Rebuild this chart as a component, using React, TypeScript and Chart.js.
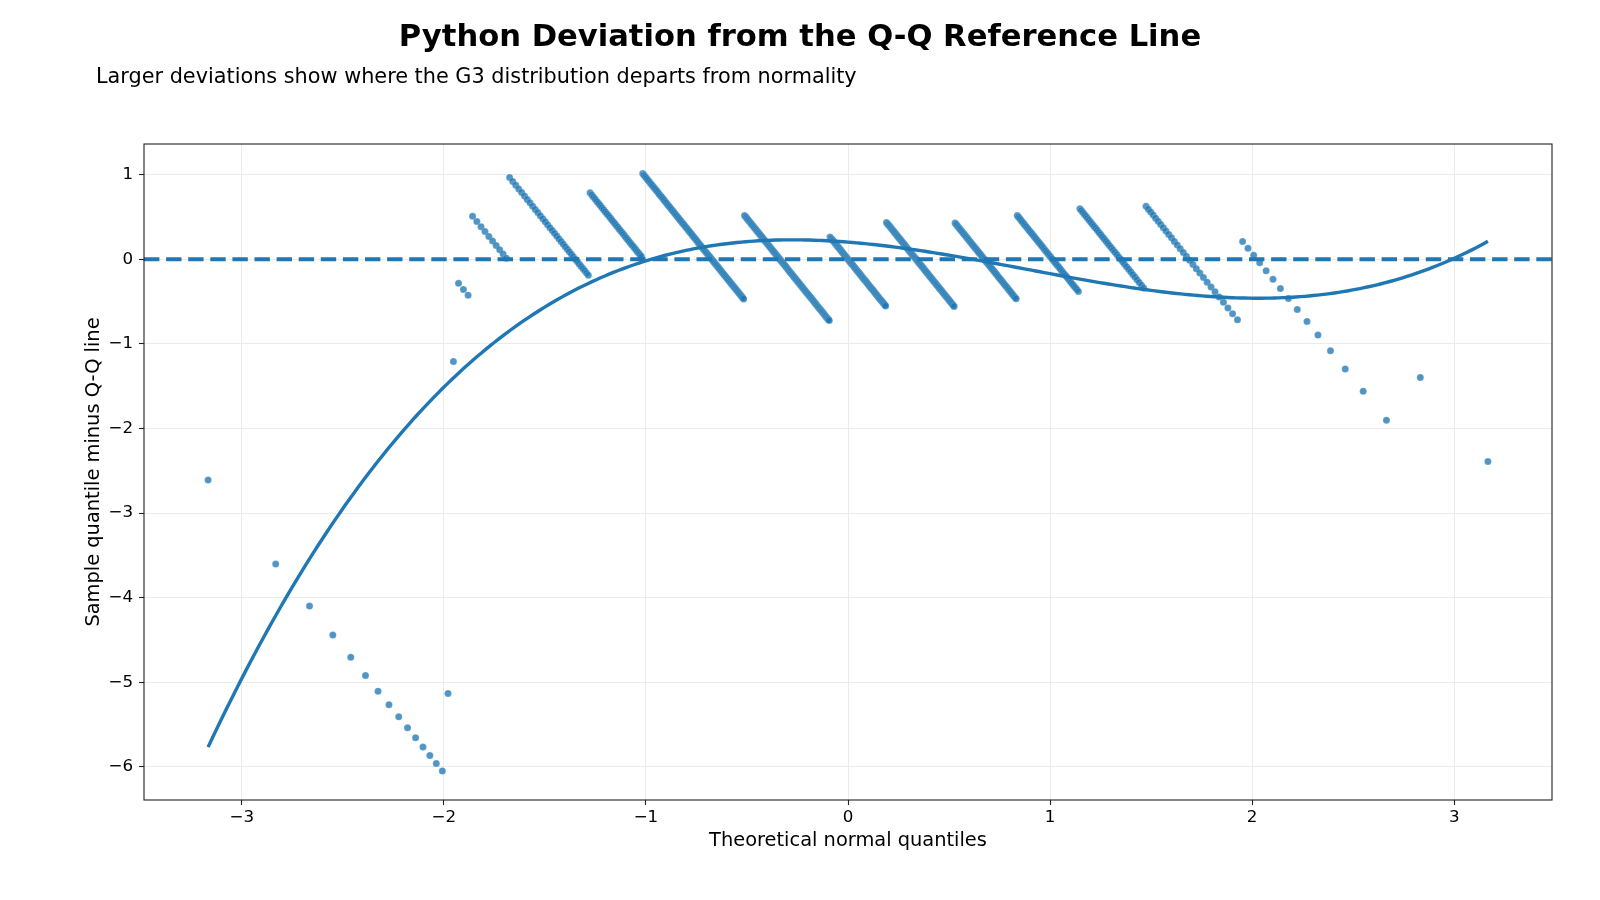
import React, { useEffect, useRef } from "react";
import { Chart, registerables } from "chart.js";

Chart.register(...registerables);

const TITLE = "Python Deviation from the Q-Q Reference Line";
const SUBTITLE = "Larger deviations show where the G3 distribution departs from normality";
const X_LABEL = "Theoretical normal quantiles";
const Y_LABEL = "Sample quantile minus Q-Q line";

// G3 grades present in the sample and how many students received each
// (counts read from the length of each diagonal stripe of points)
const gradeValues = [0, 1, 5, 6, 7, 8, 9, 10, 11, 12, 13, 14, 15, 16, 17, 18, 19];
const gradeCounts = [15, 1, 1, 3, 10, 35, 35, 97, 104, 72, 82, 63, 49, 36, 29, 15, 2];

const xTickValues = [-3, -2, -1, 0, 1, 2, 3];
const xTickLabels = ["−3", "−2", "−1", "0", "1", "2", "3"];
const yTickValues = [-6, -5, -4, -3, -2, -1, 0, 1];
const yTickLabels = ["−6", "−5", "−4", "−3", "−2", "−1", "0", "1"];

const X_MIN = -3.484;
const X_MAX = 3.484;
const Y_MIN = -6.39;
const Y_MAX = 1.362;

const BLUE = "#1f77b4";
const FONT = "'DejaVu Sans', 'Liberation Sans', sans-serif";

// Inverse of the standard normal CDF (Acklam)
function normInv(p: number): number {
  const a = [-3.969683028665376e1, 2.209460984245205e2, -2.759285104469687e2, 1.38357751867269e2, -3.066479806614716e1, 2.506628277459239];
  const b = [-5.447609879822406e1, 1.615858368580409e2, -1.556989798598866e2, 6.680131188771972e1, -1.328068155288572e1];
  const c = [-7.784894002430293e-3, -3.223964580411365e-1, -2.400758277161838, -2.549732539343734, 4.374664141464968, 2.938163982698783];
  const d = [7.784695709041462e-3, 3.224671290700398e-1, 2.445134137142996, 3.754408661907416];
  const pLow = 0.02425;
  const pHigh = 1 - pLow;
  let q: number, r: number;
  if (p < pLow) {
    q = Math.sqrt(-2 * Math.log(p));
    return (((((c[0] * q + c[1]) * q + c[2]) * q + c[3]) * q + c[4]) * q + c[5]) / ((((d[0] * q + d[1]) * q + d[2]) * q + d[3]) * q + 1);
  }
  if (p <= pHigh) {
    q = p - 0.5;
    r = q * q;
    return ((((((a[0] * r + a[1]) * r + a[2]) * r + a[3]) * r + a[4]) * r + a[5]) * q) / (((((b[0] * r + b[1]) * r + b[2]) * r + b[3]) * r + b[4]) * r + 1);
  }
  q = Math.sqrt(-2 * Math.log(1 - p));
  return -(((((c[0] * q + c[1]) * q + c[2]) * q + c[3]) * q + c[4]) * q + c[5]) / ((((d[0] * q + d[1]) * q + d[2]) * q + d[3]) * q + 1);
}

function percentile(sorted: number[], p: number): number {
  const pos = p * (sorted.length - 1);
  const lo = Math.floor(pos);
  const hi = Math.min(lo + 1, sorted.length - 1);
  return sorted[lo] + (pos - lo) * (sorted[hi] - sorted[lo]);
}

function solve(A: number[][], bv: number[]): number[] {
  const n = bv.length;
  const M = A.map((row, i) => [...row, bv[i]]);
  for (let col = 0; col < n; col++) {
    let piv = col;
    for (let r = col + 1; r < n; r++) if (Math.abs(M[r][col]) > Math.abs(M[piv][col])) piv = r;
    [M[col], M[piv]] = [M[piv], M[col]];
    for (let r = col + 1; r < n; r++) {
      const f = M[r][col] / M[col][col];
      for (let k = col; k <= n; k++) M[r][k] -= f * M[col][k];
    }
  }
  const x = new Array(n).fill(0);
  for (let r = n - 1; r >= 0; r--) {
    let s = M[r][n];
    for (let k = r + 1; k < n; k++) s -= M[r][k] * x[k];
    x[r] = s / M[r][r];
  }
  return x;
}

function buildData() {
  const sample: number[] = [];
  gradeValues.forEach((g, i) => {
    for (let k = 0; k < gradeCounts[i]; k++) sample.push(g);
  });
  const n = sample.length;
  const theo = sample.map((_, i) => normInv((i + 0.5) / n));
  const q1 = percentile(sample, 0.25);
  const q3 = percentile(sample, 0.75);
  const z1 = normInv(0.25);
  const z3 = normInv(0.75);
  const slope = (q3 - q1) / (z3 - z1);
  const intercept = q1 - slope * z1;
  const points = sample.map((s, i) => ({ x: theo[i], y: s - (slope * theo[i] + intercept) }));

  // cubic least-squares trend of the deviations
  const deg = 3;
  const A: number[][] = [];
  const rhs: number[] = [];
  for (let i = 0; i <= deg; i++) {
    A.push([]);
    let sy = 0;
    for (const p of points) sy += p.y * Math.pow(p.x, i);
    rhs.push(sy);
    for (let j = 0; j <= deg; j++) {
      let sx = 0;
      for (const p of points) sx += Math.pow(p.x, i + j);
      A[i].push(sx);
    }
  }
  const coef = solve(A, rhs);
  const xs0 = theo[0];
  const xs1 = theo[n - 1];
  const curve: { x: number; y: number }[] = [];
  const steps = 300;
  for (let k = 0; k <= steps; k++) {
    const x = xs0 + ((xs1 - xs0) * k) / steps;
    let y = 0;
    for (let i = 0; i <= deg; i++) y += coef[i] * Math.pow(x, i);
    curve.push({ x, y });
  }
  return { points, curve };
}

const titlesAndFrame = {
  id: "titlesAndFrame",
  afterDraw(chart: any) {
    const ctx = chart.ctx as CanvasRenderingContext2D;
    const a = chart.chartArea;
    ctx.save();
    ctx.strokeStyle = "#222";
    ctx.lineWidth = 1.1;
    ctx.strokeRect(a.left, a.top, a.right - a.left, a.bottom - a.top);
    ctx.fillStyle = "#000";
    ctx.textBaseline = "middle";
    ctx.textAlign = "center";
    ctx.font = `bold 30.6px ${FONT}`;
    ctx.fillText(TITLE, 800, 38.5);
    ctx.textAlign = "left";
    ctx.font = `20.8px ${FONT}`;
    ctx.fillText(SUBTITLE, 96, 78);
    ctx.restore();
  },
};

export default function App() {
  const ref = useRef<HTMLCanvasElement | null>(null);

  useEffect(() => {
    document.body.style.margin = "0";
    const { points, curve } = buildData();
    const zeroLine = [
      { x: X_MIN, y: 0 },
      { x: X_MAX, y: 0 },
    ];
    const chart = new Chart(ref.current as HTMLCanvasElement, {
      type: "scatter",
      data: {
        datasets: [
          {
            label: "Cubic trend",
            data: curve,
            showLine: true,
            borderColor: BLUE,
            borderWidth: 3.4,
            pointRadius: 0,
            tension: 0,
          } as any,
          {
            label: "Zero",
            data: zeroLine,
            showLine: true,
            borderColor: BLUE,
            borderWidth: 4.2,
            borderDash: [15.4, 6.7],
            pointRadius: 0,
          } as any,
          {
            label: "Deviation",
            data: points,
            pointRadius: 3.5,
            pointBackgroundColor: "rgba(31,119,180,0.78)",
            pointBorderColor: "rgba(255,255,255,0.35)",
            pointBorderWidth: 0.5,
          } as any,
        ],
      },
      options: {
        animation: false,
        responsive: false,
        maintainAspectRatio: false,
        events: [],
        layout: { padding: { top: 144, right: 48, bottom: 0, left: 0 } },
        plugins: {
          legend: { display: false },
          tooltip: { enabled: false },
          title: { display: false },
        },
        scales: {
          x: {
            type: "linear",
            min: X_MIN,
            max: X_MAX,
            afterBuildTicks: (scale: any) => {
              scale.ticks = xTickValues.map((v) => ({ value: v }));
            },
            afterFit: (scale: any) => {
              scale.height = 100;
            },
            border: { display: false },
            grid: {
              color: "#ebebeb",
              lineWidth: 1,
              drawTicks: true,
              tickLength: 5,
              tickColor: "#222",
              tickWidth: 1.1,
            },
            ticks: {
              padding: 3,
              color: "#000",
              font: { family: FONT, size: 16.7 },
              maxRotation: 0,
              callback: (v: any) => {
                const i = xTickValues.indexOf(Number(v));
                return i >= 0 ? xTickLabels[i] : "";
              },
            },
            title: {
              display: true,
              text: X_LABEL,
              color: "#000",
              font: { family: FONT, size: 19.4 },
              padding: { top: 0, bottom: 47 },
            },
          },
          y: {
            type: "linear",
            min: Y_MIN,
            max: Y_MAX,
            afterBuildTicks: (scale: any) => {
              scale.ticks = yTickValues.map((v) => ({ value: v }));
            },
            afterFit: (scale: any) => {
              scale.width = 144;
            },
            border: { display: false },
            grid: {
              color: "#ebebeb",
              lineWidth: 1,
              drawTicks: true,
              tickLength: 5,
              tickColor: "#222",
              tickWidth: 1.1,
            },
            ticks: {
              padding: 6,
              color: "#000",
              font: { family: FONT, size: 16.7 },
              callback: (v: any) => {
                const i = yTickValues.indexOf(Number(v));
                return i >= 0 ? yTickLabels[i] : "";
              },
            },
            title: {
              display: true,
              text: Y_LABEL,
              color: "#000",
              font: { family: FONT, size: 19.4 },
              padding: { top: 82, bottom: 0 },
            },
          },
        },
      },
      plugins: [titlesAndFrame],
    } as any);
    return () => chart.destroy();
  }, []);

  return (
    <div style={{ position: "absolute", left: 0, top: 0, width: 1600, height: 900, background: "#fff" }}>
      <canvas ref={ref} width={1600} height={900} style={{ width: 1600, height: 900, display: "block" }} />
    </div>
  );
}
